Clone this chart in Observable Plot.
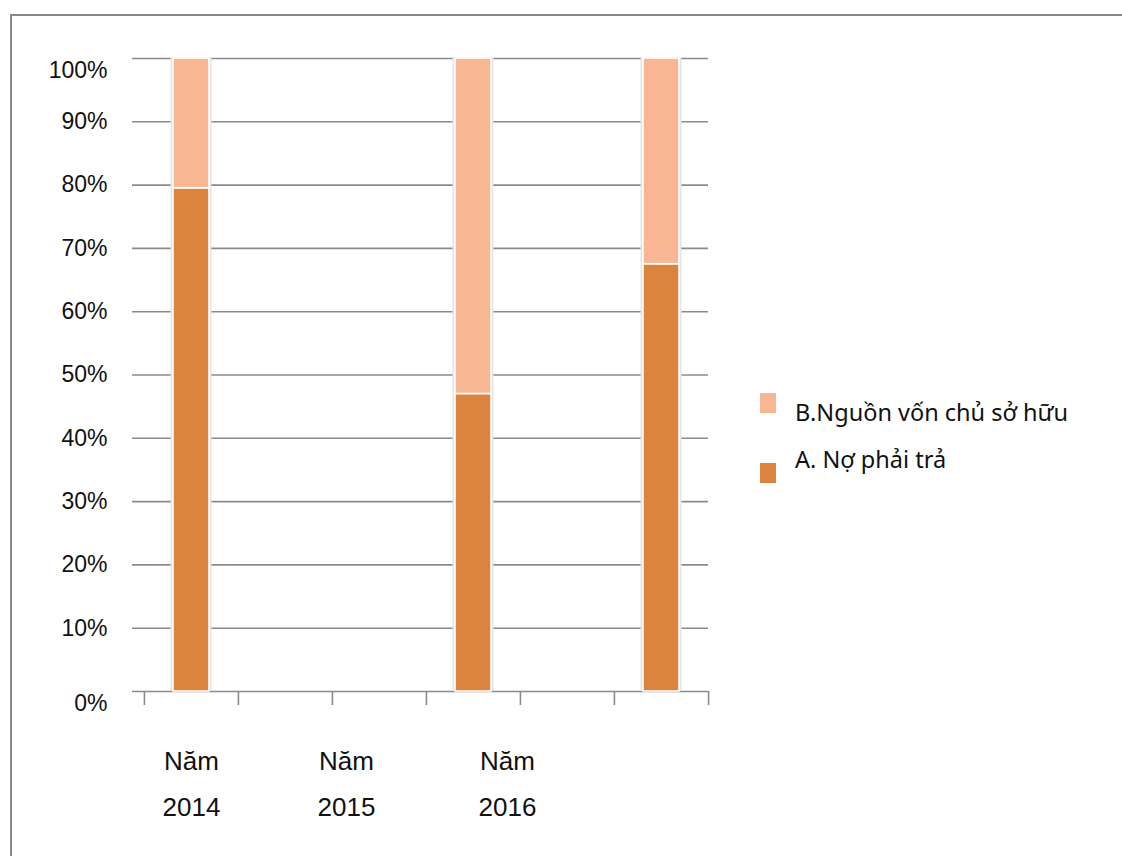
<!DOCTYPE html>
<html><head><meta charset="utf-8">
<script src="https://cdn.jsdelivr.net/npm/d3@7"></script>
<script src="https://cdn.jsdelivr.net/npm/@observablehq/plot@0.6"></script>
<style>
body{margin:0;background:#fff;}
#wrap{position:relative;width:1122px;height:856px;overflow:hidden;background:#fff;}
#frame{position:absolute;left:10px;top:14px;width:1200px;height:1000px;border-top:2px solid #898989;border-left:2px solid #898989;}
#chart{position:absolute;left:0;top:0;}
.legtext{position:absolute;font-family:"Noto Sans",sans-serif;font-size:23.5px;color:#111;white-space:nowrap;line-height:1;}
.sw{position:absolute;width:16px;height:20px;}
</style></head>
<body><div id="wrap"><div id="frame"></div><div id="chart"></div><div id="legend"></div></div>
<script>
// ---- data ----
const categories = ["c1", "c2", "c3", "c4", "c5", "c6"];
const seriesNames = ["A. Nợ phải trả", "B.Nguồn vốn chủ sở hữu"];
const seriesColors = ["#db843d", "#f8b792"];
const debtShare = [79.5, null, null, 47.0, null, 67.5];
const equityShare = [20.5, null, null, 53.0, null, 32.5];
const yTicks = [0, 10, 20, 30, 40, 50, 60, 70, 80, 90, 100];
const xLabelCats = ["c1", "c3", "c4"];
const xLabelTexts = ["Năm\n2014", "Năm\n2015", "Năm\n2016"];

// ---- layout ----
const W = 1122, H = 856;
const mL = 143, mR = 414, mT = 58, mB = 165;
const step = (W - mL - mR) / categories.length;
const xLabelDx = [0, -33, 34];

const rows = [];
categories.forEach((c, i) => {
  if (debtShare[i] != null) rows.push({cat: c, series: seriesNames[0], value: debtShare[i]});
  if (equityShare[i] != null) rows.push({cat: c, series: seriesNames[1], value: equityShare[i]});
});
const totals = categories.map((c, i) => ({cat: c, value: (debtShare[i] ?? 0) + (equityShare[i] ?? 0)})).filter(d => d.value > 0);

const chart = Plot.plot({
  width: W, height: H,
  marginLeft: mL, marginRight: mR, marginTop: mT, marginBottom: mB,
  style: {fontFamily: "'Liberation Sans', Arial, sans-serif", background: "transparent", color: "#111"},
  x: {domain: categories, padding: 0, axis: null},
  y: {domain: [0, 100], axis: null},
  color: {domain: seriesNames, range: seriesColors},
  marks: [
    Plot.ruleY(yTicks, {y: d => d, stroke: "#8a8a8a", strokeWidth: 1.6, insetLeft: -11}),
    Plot.axisX(categories, {tickSize: 14, dx: -step / 2, tickFormat: () => "", stroke: "#8a8a8a", strokeWidth: 1.6, label: null}),
    Plot.axisX([categories[categories.length - 1]], {tickSize: 14, dx: step / 2, tickFormat: () => "", stroke: "#8a8a8a", strokeWidth: 1.6, label: null}),
    Plot.barY(totals, {x: "cat", y: "value", fill: "#e6e6e6", insetLeft: 26.5, insetRight: 26.5}),
    Plot.barY(rows, {x: "cat", y: "value", fill: "series", order: seriesNames, stroke: "white", strokeWidth: 1.6, insetLeft: 29, insetRight: 29}),
    Plot.axisY(yTicks.filter(t => t > 0 && t < 100), {tickSize: 0, tickPadding: 36, tickFormat: d => d + "%", fontSize: 23, label: null}),
    Plot.axisY([0, 100], {tickSize: 0, tickPadding: 36, dy: 12, tickFormat: d => d + "%", fontSize: 23, label: null}),
    ...xLabelCats.map((c, i) => Plot.text([xLabelTexts[i]], {
      x: () => c, frameAnchor: "bottom", dy: 87, dx: xLabelDx[i], text: d => d,
      fontSize: 26, lineHeight: 1.77, lineAnchor: "middle", fill: "#111"
    }))
  ]
});
document.getElementById("chart").append(chart);

// ---- legend ----
const leg = document.getElementById("legend");
const legItems = [
  {name: seriesNames[1], color: seriesColors[1], swTop: 393, textTop: 401},
  {name: seriesNames[0], color: seriesColors[0], swTop: 463, textTop: 448}
];
legItems.forEach(it => {
  const s = document.createElement("div");
  s.className = "sw"; s.style.left = "760px"; s.style.top = it.swTop + "px"; s.style.background = it.color;
  leg.append(s);
  const t = document.createElement("div");
  t.className = "legtext"; t.style.left = "795px"; t.style.top = it.textTop + "px"; t.textContent = it.name;
  leg.append(t);
});
</script>
</body></html>
